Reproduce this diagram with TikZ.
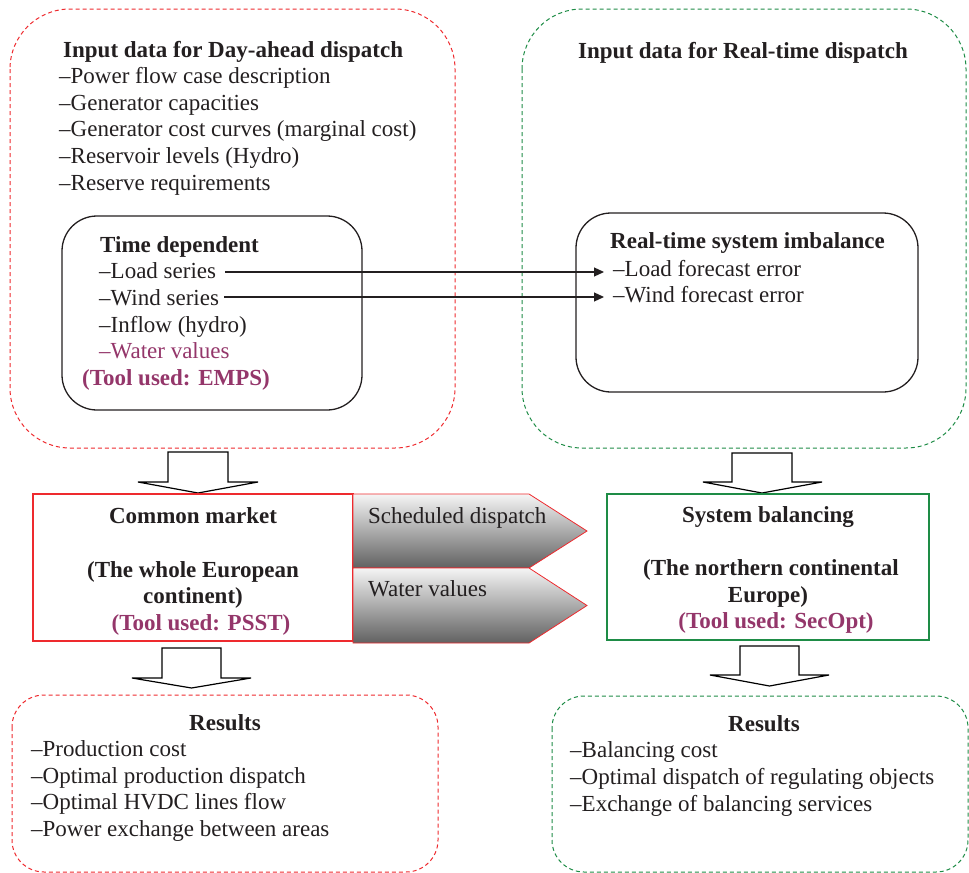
\documentclass[tikz,border=0pt]{standalone}
\usepackage{fontspec}
\setmainfont{Liberation Serif}
\usetikzlibrary{arrows.meta}
\definecolor{txt}{HTML}{231F20}
\definecolor{dred}{HTML}{EE2A2E}
\definecolor{dgreen}{HTML}{1E8C46}
\definecolor{purp}{HTML}{94366A}
\begin{document}
\begin{tikzpicture}[x=1bp,y=-1bp, font=\fontsize{23bp}{27bp}\selectfont, text=txt,
  lbl/.style={anchor=base west, inner sep=0pt},
  ctr/.style={anchor=base, inner sep=0pt},
  reddash/.style={draw=dred, dash pattern=on 4bp off 3bp, line width=1bp},
  greendash/.style={draw=dgreen, dash pattern=on 4bp off 3bp, line width=1bp},
  inbox/.style={draw=txt, line width=1.3bp, rounded corners=35bp},
  blockarrow/.style={draw=black, fill=white, line width=1.2bp, line join=miter},
  grayarrow/.style={draw=dred, line width=0.8bp, top color=gray!8, bottom color=black!62},
  conn/.style={draw=txt, line width=1.2bp, -{Triangle[length=10bp,width=9bp]}}
]
\useasboundingbox (0,0) rectangle (969,873);

% outer dashed boxes
\draw[reddash, rounded corners=60bp] (10,9) rectangle (455,448);
\draw[greendash, rounded corners=60bp] (522,9) rectangle (966,448);

% inner boxes
\draw[inbox] (62,216) rectangle (362,410);
\draw[inbox] (576,213) rectangle (918,392);

% Day-ahead texts
\node[lbl] (t1) at (63,57) {\textbf{Input data for Day-ahead dispatch}};
\node[lbl] (a1) at (59,83) {–Power flow case description};
\node[lbl] (a2) at (59,110) {–Generator capacities};
\node[lbl] (a3) at (59,136.5) {–Generator cost curves (marginal cost)};
\node[lbl] (a4) at (59,163) {–Reservoir levels (Hydro)};
\node[lbl] (a5) at (59,190) {–Reserve requirements};

\node[lbl] (td) at (100,252) {\textbf{Time dependent}};
\node[lbl] (load) at (99,278) {–Load series};
\node[lbl] (wind) at (99,305) {–Wind series};
\node[lbl] (inflow) at (99,332) {–Inflow (hydro)};
\node[lbl, text=purp] (wv) at (99,358) {–Water values};
\node[lbl, text=purp] (emps) at (82,385) {\textbf{(Tool used: EMPS)}};

% Real-time texts
\node[lbl] (t2) at (578,58) {\textbf{Input data for Real-time dispatch}};
\node[lbl] (rt) at (610,248) {\textbf{Real-time system imbalance}};
\node[lbl] (lfe) at (613,276) {–Load forecast error};
\node[lbl] (wfe) at (613,302) {–Wind forecast error};

\draw[conn] ([xshift=9bp,yshift=6bp]load.base east) -- ([xshift=-9bp,yshift=6bp]lfe.base west |- load.base east);
\draw[conn] ([xshift=5bp,yshift=8bp]wind.base east) -- ([xshift=-9bp,yshift=8bp]wfe.base west |- wind.base east);

% block arrows down (top)
\draw[blockarrow] (168,452) -- (228,452) -- (228,482) -- (258,482) -- (198,493) -- (138,482) -- (168,482) -- cycle;
\draw[blockarrow] (732,453) -- (792,453) -- (792,482) -- (822,482) -- (762,493) -- (703,482) -- (732,482) -- cycle;

% common market box
\node[draw=dred, line width=2.5bp, minimum width=320bp, minimum height=147bp, inner sep=0pt] (cm) at (193,567.5) {};
\node[ctr] (cm1) at (193,523) {\textbf{Common market}};
\node[ctr] (cm2) at (193,577) {\textbf{(The whole European}};
\node[ctr] (cm3) at (193,603) {\textbf{continent)}};
\node[ctr, text=purp] (cm4) at (201,630) {\textbf{(Tool used: PSST)}};

% system balancing box
\node[draw=dgreen, line width=2.5bp, minimum width=322bp, minimum height=146bp, inner sep=0pt] (sb) at (768,567) {};
\node[ctr] (sb1) at (768,522) {\textbf{System balancing}};
\node[ctr] (sb2) at (771,575) {\textbf{(The northern continental}};
\node[ctr] (sb3) at (768,602) {\textbf{Europe)}};
\node[ctr, text=purp] (sb4) at (776,628) {\textbf{(Tool used: SecOpt)}};

% gray arrows
\path[grayarrow] (353,494) -- (529,494) -- (587,531) -- (529,568) -- (353,568) -- cycle;
\path[grayarrow] (353,568) -- (529,568) -- (587,605.5) -- (529,643) -- (353,643) -- cycle;
\node[lbl] (sd) at (368,523) {Scheduled dispatch};
\node[lbl] (wv2) at (368,596) {Water values};

% block arrows down (bottom)
\draw[blockarrow] (162,648) -- (221,648) -- (221,678) -- (251,678) -- (191.5,688) -- (132,678) -- (162,678) -- cycle;
\draw[blockarrow] (740,646) -- (799,646) -- (799,675) -- (829,675) -- (769.5,686) -- (710,675) -- (740,675) -- cycle;

% results boxes
\draw[reddash, rounded corners=32bp] (12,695) rectangle (438,872);
\draw[greendash, rounded corners=32bp] (552,696) rectangle (968,872);

\node[ctr] (r1) at (225,730) {\textbf{Results}};
\node[lbl] (r1a) at (31,756) {–Production cost};
\node[lbl] (r1b) at (31,783) {–Optimal production dispatch};
\node[lbl] (r1c) at (31,809.5) {–Optimal HVDC lines flow};
\node[lbl] (r1d) at (31,836) {–Power exchange between areas};

\node[ctr] (r2) at (764,731) {\textbf{Results}};
\node[lbl] (r2a) at (570,757) {–Balancing cost};
\node[lbl] (r2b) at (570,784) {–Optimal dispatch of regulating objects};
\node[lbl] (r2c) at (570,811) {–Exchange of balancing services};
\end{tikzpicture}
\end{document}
